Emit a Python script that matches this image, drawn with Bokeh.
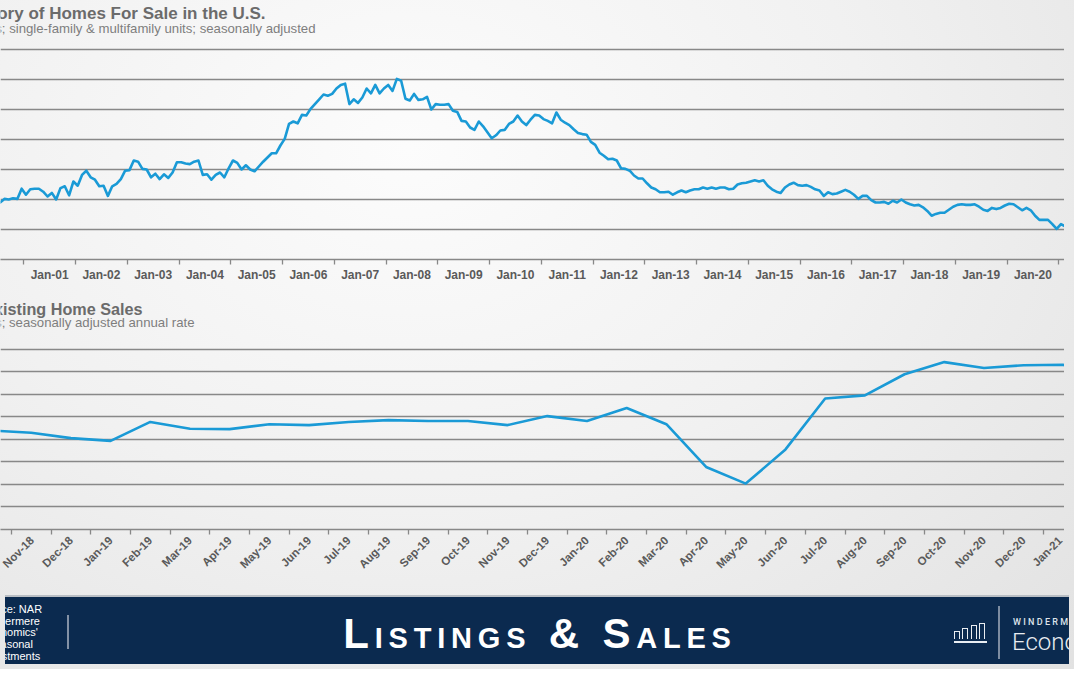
import math
from bokeh.plotting import figure
from bokeh.models import Range1d, FixedTicker, Div
from bokeh.layouts import column
from bokeh.core.properties import value
from bokeh.embed import file_html
from bokeh.resources import INLINE

# ---------------- data ----------------
# Inventory of homes for sale (millions), monthly, Jan-2000 ...
inv_2000 = [2.00, 1.97, 2.02, 1.98, 1.98, 2.03, 1.95, 2.01, 2.00, 2.02, 2.01, 2.18]
inv_2001 = [2.08, 2.17, 2.18, 2.18, 2.13, 2.05, 2.11, 2.00, 2.19, 2.22, 2.07, 2.30]
inv_2002 = [2.23, 2.41, 2.48, 2.37, 2.33, 2.22, 2.23, 2.06, 2.22, 2.26, 2.34, 2.48]
inv_2003 = [2.49, 2.65, 2.63, 2.51, 2.50, 2.37, 2.43, 2.34, 2.42, 2.36, 2.45, 2.62]
inv_2004 = [2.62, 2.60, 2.59, 2.63, 2.65, 2.41, 2.42, 2.33, 2.41, 2.45, 2.37, 2.52]
inv_2005 = [2.65, 2.61, 2.50, 2.57, 2.50, 2.47, 2.55, 2.63, 2.70, 2.77, 2.77, 2.90]
inv_2006 = [3.01, 3.26, 3.30, 3.27, 3.41, 3.40, 3.51, 3.59, 3.67, 3.75, 3.73, 3.76]
inv_2007 = [3.85, 3.91, 3.93, 3.59, 3.67, 3.61, 3.70, 3.85, 3.77, 3.91, 3.77, 3.85]
inv_2008 = [3.91, 3.81, 4.01, 3.98, 3.68, 3.65, 3.76, 3.66, 3.67, 3.71, 3.50, 3.59]
inv_2009 = [3.58, 3.58, 3.59, 3.48, 3.46, 3.31, 3.30, 3.20, 3.16, 3.30, 3.22, 3.12]
inv_2010 = [3.02, 3.07, 3.15, 3.16, 3.26, 3.30, 3.40, 3.30, 3.24, 3.33, 3.41, 3.40]
inv_2011 = [3.34, 3.31, 3.27, 3.45, 3.33, 3.28, 3.24, 3.17, 3.11, 3.09, 3.08, 2.96]
inv_2012 = [2.91, 2.78, 2.73, 2.67, 2.68, 2.65, 2.52, 2.51, 2.48, 2.40, 2.35, 2.35]
inv_2013 = [2.27, 2.20, 2.17, 2.12, 2.12, 2.13, 2.08, 2.12, 2.15, 2.12, 2.15, 2.17]
inv_2014 = [2.17, 2.20, 2.18, 2.20, 2.18, 2.20, 2.20, 2.17, 2.18, 2.25, 2.27, 2.28]
inv_2015 = [2.30, 2.32, 2.30, 2.32, 2.23, 2.17, 2.13, 2.11, 2.20, 2.25, 2.28, 2.24]
inv_2016 = [2.23, 2.24, 2.21, 2.17, 2.15, 2.06, 2.12, 2.09, 2.10, 2.13, 2.16, 2.13]
inv_2017 = [2.08, 2.01, 2.06, 2.06, 1.99, 1.95, 1.95, 1.96, 1.93, 1.98, 1.95, 2.00]
inv_2018 = [1.95, 1.92, 1.90, 1.91, 1.87, 1.81, 1.73, 1.76, 1.78, 1.78, 1.83, 1.88]
inv_2019 = [1.91, 1.92, 1.91, 1.91, 1.92, 1.88, 1.83, 1.81, 1.86, 1.84, 1.86, 1.90]
inv_2020 = [1.93, 1.92, 1.87, 1.82, 1.86, 1.82, 1.73, 1.66, 1.66, 1.66, 1.59, 1.51]
inv_2021 = [1.59, 1.55, 1.52]

year_labels = ["Jan-00", "Jan-01", "Jan-02", "Jan-03", "Jan-04", "Jan-05", "Jan-06",
               "Jan-07", "Jan-08", "Jan-09", "Jan-10", "Jan-11", "Jan-12", "Jan-13",
               "Jan-14", "Jan-15", "Jan-16", "Jan-17", "Jan-18", "Jan-19", "Jan-20",
               "Jan-21"]

# Existing home sales (millions, SAAR), monthly
sales_months = ["Oct-18", "Nov-18", "Dec-18", "Jan-19", "Feb-19", "Mar-19", "Apr-19",
                "May-19", "Jun-19", "Jul-19", "Aug-19", "Sep-19", "Oct-19", "Nov-19",
                "Dec-19", "Jan-20", "Feb-20", "Mar-20", "Apr-20", "May-20", "Jun-20",
                "Jul-20", "Aug-20", "Sep-20", "Oct-20", "Nov-20", "Dec-20", "Jan-21",
                "Feb-21"]
sales = [5.20, 5.15, 5.03, 4.97, 5.39, 5.24, 5.23, 5.34, 5.32, 5.39, 5.43, 5.41, 5.41,
         5.32, 5.52, 5.41, 5.70, 5.34, 4.39, 4.02, 4.78, 5.91, 5.98, 6.45, 6.72, 6.59,
         6.65, 6.66, 6.20]

inventory = (inv_2000 + inv_2001 + inv_2002 + inv_2003 + inv_2004 + inv_2005 + inv_2006
             + inv_2007 + inv_2008 + inv_2009 + inv_2010 + inv_2011 + inv_2012 + inv_2013
             + inv_2014 + inv_2015 + inv_2016 + inv_2017 + inv_2018 + inv_2019 + inv_2020
             + inv_2021)

# ---------------- style ----------------
W = 1064
FONT = "Liberation Sans"
BLUE = "#1a9ad6"
GRID = "#888888"
TICK_TXT = "#5a5a5a"
TITLE_C = "#6b6b6b"
SUB_C = "#7e7e7e"

TOP_X0, TOP_X1 = 6.096, 252.82      # visible month window of the upper chart
BOT_X0, BOT_X1 = 0.2267, 27.028     # visible month window of the lower chart


def base_fig(h, xr, yr, **kw):
    p = figure(width=W, height=h, x_range=xr, y_range=yr, output_backend="svg",
               toolbar_location=None, background_fill_color=None,
               border_fill_color=None, outline_line_color=None,
               min_border_left=0, min_border_right=0, **kw)
    return p


def title_strip(h, title, sub, title_x, title_y, sub_x, sub_y, title_size):
    p = base_fig(h, Range1d(0, W), Range1d(h, 0), x_axis_location=None,
                 y_axis_location=None, min_border_top=0, min_border_bottom=0)
    p.grid.visible = False
    p.text(x=[title_x], y=[title_y], text=[title], text_align="right",
           text_baseline="alphabetic", text_font=value(FONT), text_font_style="bold",
           text_font_size=title_size, text_color=TITLE_C)
    p.text(x=[sub_x], y=[sub_y], text=[sub], text_align="right",
           text_baseline="alphabetic", text_font=value(FONT), text_font_size="13.2px",
           text_color=SUB_C)
    return p


def style_xaxis(ax, label_pos, labels, bounds, size):
    ax.ticker = FixedTicker(ticks=label_pos, minor_ticks=bounds)
    ax.major_label_overrides = {pos: lab for pos, lab in zip(label_pos, labels)}
    ax.major_tick_line_color = None
    ax.major_tick_out = 0
    ax.major_tick_in = 0
    ax.minor_tick_line_color = GRID
    ax.minor_tick_line_width = 1.3
    ax.minor_tick_out = 5
    ax.minor_tick_in = 0
    ax.axis_line_color = GRID
    ax.axis_line_width = 1.6
    ax.major_label_text_font = FONT
    ax.major_label_text_font_style = "bold"
    ax.major_label_text_font_size = size
    ax.major_label_text_color = TICK_TXT


# ---- top titles ----
top_titles = title_strip(46, "Inventory of Homes For Sale in the U.S.",
                         "Millions; single-family & multifamily units; seasonally adjusted",
                         265, 13, 315, 28, "17px")

# ---- top chart ----
months_idx = list(range(len(inventory)))
p1 = base_fig(241, Range1d(TOP_X0, TOP_X1), Range1d(1.0, 4.5333), y_axis_location=None,
              min_border_top=1, min_border_bottom=28)
p1.xgrid.visible = False
p1.ygrid.ticker = FixedTicker(ticks=[1.5, 2.0, 2.5, 3.0, 3.5, 4.0, 4.5])
p1.ygrid.grid_line_color = GRID
p1.ygrid.grid_line_width = 1.7
top_pos = [12 * k + 5.5 for k in range(len(year_labels))]
vis = [(pos, lab) for pos, lab in zip(top_pos, year_labels) if TOP_X0 < pos < TOP_X1]
style_xaxis(p1.xaxis[0], [v[0] for v in vis], [v[1] for v in vis],
            [12 * k - 0.5 for k in range(len(year_labels) + 1)], "12px")
p1.xaxis[0].major_label_standoff = 3
p1.line(months_idx, inventory, line_color=BLUE, line_width=2.6, line_join="round")

# ---- bottom titles ----
bot_titles = title_strip(56, "Existing Home Sales",
                         "Millions; seasonally adjusted annual rate",
                         142, 21, 194, 35, "16.2px")

# ---- bottom chart ----
sales_idx = list(range(len(sales)))
p2 = base_fig(247, Range1d(BOT_X0, BOT_X1), Range1d(3.0, 7.0444), y_axis_location=None,
              min_border_top=4, min_border_bottom=61)
p2.xgrid.visible = False
p2.ygrid.ticker = FixedTicker(ticks=[3.5, 4.0, 4.5, 5.0, 5.5, 6.0, 6.5, 7.0])
p2.ygrid.grid_line_color = GRID
p2.ygrid.grid_line_width = 1.7
vis2 = [(i, lab) for i, lab in zip(sales_idx, sales_months) if BOT_X0 < i < BOT_X1]
style_xaxis(p2.xaxis[0], [v[0] for v in vis2], [v[1] for v in vis2],
            [k - 0.5 for k in range(len(sales) + 1)], "11.5px")
p2.xaxis[0].major_label_orientation = math.pi / 4
p2.xaxis[0].major_label_standoff = 4
p2.line(sales_idx, sales, line_color=BLUE, line_width=2.6, line_join="round")

# ---- footer ----
footer_html = f"""
<div style="position:relative;width:{W}px;height:69px;background:#0b2a4f;overflow:hidden;
 font-family:'Liberation Sans',Arial,sans-serif;border-top:2px solid #b9bec4;box-sizing:border-box;">
  <div style="position:absolute;left:-35px;top:7px;width:80px;text-align:center;color:#ffffff;font-size:11px;line-height:11.7px;">
    Source: NAR<br>Windermere<br>Economics'<br>Seasonal<br>Adjustments</div>
  <div style="position:absolute;left:62px;top:18px;width:1.5px;height:34px;background:#8391a5;"></div>
  <div style="position:absolute;left:3px;top:13px;width:{W}px;text-align:center;color:#ffffff;
   font-size:42px;font-weight:bold;font-variant:small-caps;letter-spacing:5.8px;line-height:48px;">Listings &amp; Sales</div>
  <div style="position:absolute;left:949px;top:34px;width:6px;height:8px;border:1.6px solid #e9edf2;border-bottom:none;box-sizing:border-box;"></div>
  <div style="position:absolute;left:957px;top:31px;width:6px;height:11px;border:1.6px solid #e9edf2;border-bottom:none;box-sizing:border-box;"></div>
  <div style="position:absolute;left:966px;top:28px;width:6px;height:14px;border:1.6px solid #e9edf2;border-bottom:none;box-sizing:border-box;"></div>
  <div style="position:absolute;left:974px;top:25.5px;width:6px;height:16.5px;border:1.6px solid #e9edf2;border-bottom:none;box-sizing:border-box;"></div>
  <div style="position:absolute;left:949px;top:44px;width:33px;height:2px;background:#e9edf2;"></div>
  <div style="position:absolute;left:993px;top:9px;width:1.5px;height:53px;background:#7d8ca1;"></div>
  <div style="position:absolute;left:1008px;top:20.5px;color:#dfe4ea;font-family:Roboto,sans-serif;font-weight:500;
   font-size:9px;letter-spacing:2.3px;line-height:9px;white-space:nowrap;">WINDERMERE</div>
  <div style="position:absolute;left:1007px;top:32.5px;color:#e8ecf1;font-family:Roboto,sans-serif;font-weight:300;
   font-size:24px;line-height:24px;white-space:nowrap;">Economics</div>
</div>
"""
footer = Div(text=footer_html, width=W, height=69)

layout = column(top_titles, p1, bot_titles, p2, footer, spacing=0,
                styles={"background": "radial-gradient(ellipse 95% 120% at 38% 22%, #fcfcfc 0%, #f1f1f1 45%, #dfdfdf 100%)"})

open("out.html", "w").write(file_html(layout, INLINE))
